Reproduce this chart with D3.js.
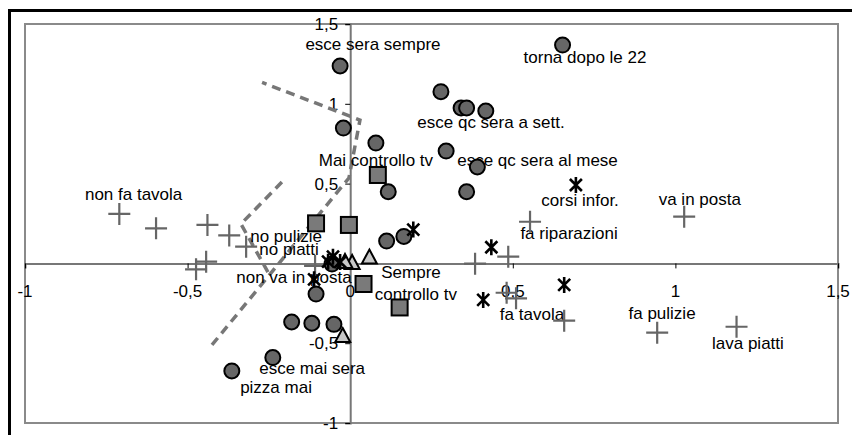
<!DOCTYPE html>
<html>
<head>
<meta charset="utf-8">
<script src="https://cdn.jsdelivr.net/npm/d3@7"></script>
<style>
  body { margin: 0; background: #fff; }
  svg { display: block; }
  text { font-family: "Liberation Sans", Arial, sans-serif; font-size: 17px; fill: #000; }
</style>
</head>
<body>
<svg id="chart"></svg>
<script>
// ---- data ----
var circles = [
  [-0.031, 1.237], [0.653, 1.368], [0.279, 1.076], [0.341, 0.974], [0.358, 0.974],
  [0.417, 0.955], [-0.021, 0.848], [0.079, 0.754], [0.295, 0.704], [0.391, 0.604],
  [0.117, 0.449], [0.358, 0.449], [0.112, 0.140], [0.165, 0.169], [-0.105, -0.192],
  [-0.180, -0.367], [-0.118, -0.375], [-0.050, -0.382], [-0.238, -0.590], [-0.364, -0.674],
  [-0.056, -0.004]
];
var squares = [
  [0.085, 0.554], [-0.105, 0.251], [-0.004, 0.241], [0.041, -0.129], [0.152, -0.276]
];
var triangles = [
  [0.059, 0.037], [-0.023, -0.455], [0.006, 0.003], [-0.016, 0.009]
];
var stars = [
  [0.694, 0.491], [0.194, 0.212], [0.434, 0.101], [0.658, -0.135], [0.409, -0.229],
  [-0.053, 0.042], [-0.068, 0.011], [-0.031, 0.009], [-0.111, -0.100]
];
var crosses = [
  [-0.710, 0.310], [-0.597, 0.220], [-0.439, 0.241], [-0.372, 0.175], [-0.320, 0.105],
  [-0.443, 0.011], [-0.474, -0.037], [-0.108, -0.016], [0.384, -0.002], [0.486, 0.042],
  [0.553, 0.261], [1.027, 0.293], [0.481, -0.184], [0.510, -0.219], [0.658, -0.359],
  [0.944, -0.434], [1.188, -0.397]
];
var boundaryA = [[-0.210, 0.510], [-0.336, 0.247], [-0.253, -0.054]];
var boundaryB = [[-0.425, -0.511], [-0.004, 0.535], [0.030, 0.898], [-0.271, 1.134]];

var labels = [
  ["esce sera sempre", 0.070, 1.337], ["torna dopo le 22", 0.722, 1.254],
  ["esce qc sera a sett.", 0.433, 0.848], ["Mai controllo tv", 0.079, 0.610],
  ["esce qc sera al mese", 0.576, 0.610], ["corsi infor.", 0.707, 0.360],
  ["va in posta", 1.075, 0.366], ["fa riparazioni", 0.673, 0.153],
  ["non fa tavola", -0.666, 0.397], ["no pulizie", -0.197, 0.134],
  ["no piatti", -0.188, 0.053], ["non va in posta", -0.173, -0.122],
  ["Sempre", 0.187, -0.091], ["controllo tv", 0.202, -0.229],
  ["fa tavola", 0.559, -0.355], ["fa pulizie", 0.959, -0.349],
  ["lava piatti", 1.223, -0.536], ["esce mai sera", -0.117, -0.693],
  ["pizza mai", -0.228, -0.812]
];
var xTicks = [-1, -0.5, 0, 0.5, 1, 1.5];
var yTicks = [-1, -0.5, 0, 0.5, 1, 1.5];
var fmt = function (v) { return String(v).replace(".", ","); };

// ---- layout ----
var W = 852, H = 435;
var m = { left: 25, right: 14, top: 24, bottom: 12 };

var svg = d3.select("#chart").attr("width", W).attr("height", H);

// outer frame (runs off the right / bottom of the picture)
svg.append("rect")
  .attr("x", 9.5).attr("y", 10.5)
  .attr("width", W).attr("height", H)
  .attr("fill", "none").attr("stroke", "#000").attr("stroke-width", 3);

var x = d3.scaleLinear().domain([-1, 1.5]).range([m.left, W - m.right]);
var y = d3.scaleLinear().domain([-1, 1.5]).range([H - m.bottom, m.top]);

// plot area border
svg.append("rect")
  .attr("x", x(-1)).attr("y", y(1.5))
  .attr("width", x(1.5) - x(-1)).attr("height", y(-1) - y(1.5))
  .attr("fill", "#fff").attr("stroke", "#8a8a8a").attr("stroke-width", 2);

// axes crossing at 0
var xAxis = d3.axisBottom(x).tickValues(xTicks).tickSize(5).tickFormat(function () { return ""; });
var yAxis = d3.axisLeft(y).tickValues(yTicks).tickSize(5).tickFormat(function () { return ""; });

var gX = svg.append("g").attr("transform", "translate(0," + y(0) + ")").call(xAxis);
var gY = svg.append("g").attr("transform", "translate(" + x(0) + ",0)").call(yAxis);
[gX, gY].forEach(function (g) {
  g.select(".domain").attr("stroke", "#777").attr("stroke-width", 2);
  g.selectAll(".tick line").attr("stroke", "#000").attr("stroke-width", 1);
});

svg.append("g").selectAll("text").data(xTicks).join("text")
  .attr("x", function (d) { return x(d); })
  .attr("y", y(0) + 34)
  .attr("text-anchor", "middle")
  .text(fmt);
svg.append("g").selectAll("text").data(yTicks).join("text")
  .attr("x", x(0) - 12)
  .attr("y", function (d) { return y(d) + 6; })
  .attr("text-anchor", "end")
  .text(fmt);

// dashed boundaries
var line = d3.line().x(function (d) { return x(d[0]); }).y(function (d) { return y(d[1]); });
[boundaryA, boundaryB].forEach(function (b) {
  svg.append("path")
    .attr("d", line(b))
    .attr("fill", "none")
    .attr("stroke", "#777")
    .attr("stroke-width", 3.5)
    .attr("stroke-dasharray", "9,6");
});

// labels
svg.append("g").selectAll("text").data(labels).join("text")
  .attr("x", function (d) { return x(d[1]); })
  .attr("y", function (d) { return y(d[2]); })
  .attr("text-anchor", "middle")
  .text(function (d) { return d[0]; });

// markers
function tr(d) { return "translate(" + x(d[0]) + "," + y(d[1]) + ")"; }

svg.append("g").selectAll("path").data(crosses).join("path")
  .attr("transform", tr)
  .attr("d", "M-11,0H11M0,-11V11")
  .attr("stroke", "#666").attr("stroke-width", 2.2).attr("fill", "none");

svg.append("g").selectAll("circle").data(circles).join("circle")
  .attr("cx", function (d) { return x(d[0]); })
  .attr("cy", function (d) { return y(d[1]); })
  .attr("r", 7.5)
  .attr("fill", "#666").attr("stroke", "#000").attr("stroke-width", 2);

svg.append("g").selectAll("rect").data(squares).join("rect")
  .attr("x", function (d) { return x(d[0]) - 8; })
  .attr("y", function (d) { return y(d[1]) - 8; })
  .attr("width", 16).attr("height", 16)
  .attr("fill", "#7a7a7a").attr("stroke", "#000").attr("stroke-width", 2);

svg.append("g").selectAll("path").data(triangles).join("path")
  .attr("transform", tr)
  .attr("d", "M0,-8L7.5,6L-7.5,6Z")
  .attr("fill", "#c8c8c8").attr("stroke", "#000").attr("stroke-width", 2);

svg.append("g").selectAll("path").data(stars).join("path")
  .attr("transform", tr)
  .attr("d", "M-6,-6L6,6M-6,6L6,-6M0,-8V8")
  .attr("stroke", "#000").attr("stroke-width", 2.6).attr("fill", "none");
</script>
</body>
</html>
